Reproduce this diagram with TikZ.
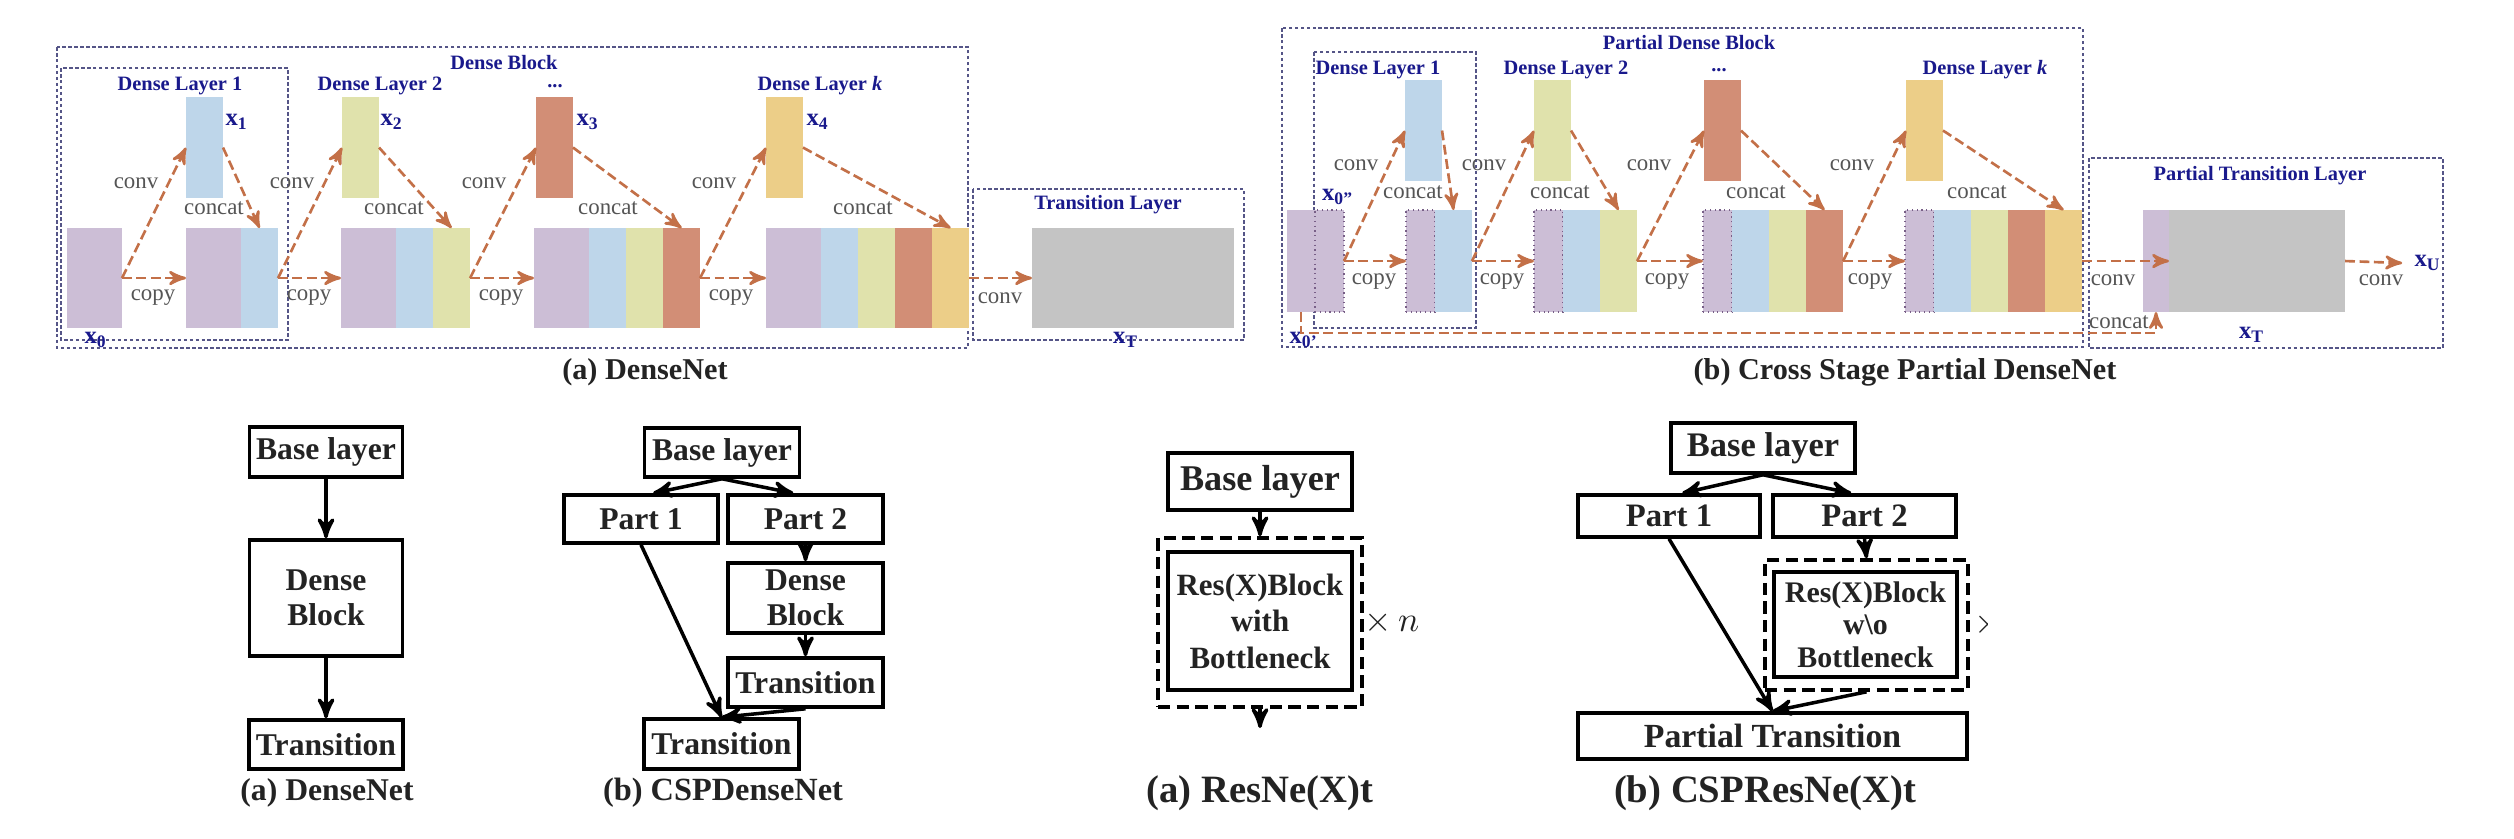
\documentclass[tikz,border=0pt]{standalone}
\usepackage{fontspec}
\setmainfont{Liberation Serif}
\usetikzlibrary{arrows,positioning}

\definecolor{navy}{RGB}{25,25,140}
\definecolor{boxline}{RGB}{85,85,135}
\definecolor{rust}{RGB}{195,112,72}
\definecolor{opgray}{RGB}{85,85,85}
\definecolor{cpurple}{RGB}{204,190,214}
\definecolor{cblue}{RGB}{190,214,234}
\definecolor{cgreen}{RGB}{224,226,172}
\definecolor{csalmon}{RGB}{210,142,118}
\definecolor{corange}{RGB}{236,206,136}
\definecolor{cgray}{RGB}{196,196,196}
\definecolor{dotline}{RGB}{120,95,135}
\definecolor{ink}{RGB}{35,35,35}

\begin{document}
\begin{tikzpicture}[x=0.01cm,y=-0.01cm,>=stealth',
  seg/.style={inner sep=0pt,outer sep=0pt,minimum width=0.37cm,minimum height=1cm},
  segb/.style={seg,minimum height=1.02cm},
  wseg/.style={minimum width=0.55cm},
  hseg/.style={minimum width=0.29cm},
  pdot/.style={draw=dotline,densely dotted,line width=0.35pt},
  feat/.style={inner sep=0pt,outer sep=0pt,minimum width=0.37cm,minimum height=1.01cm,anchor=north west},
  dbox/.style={draw=boxline,line width=0.45pt,dash pattern=on 1pt off 0.7pt},
  flow/.style={->,color=rust,line width=0.75pt,dash pattern=on 2.8pt off 1.3pt},
  ttl/.style={text=navy,font=\bfseries\fontsize{5.8}{7}\selectfont},
  xl/.style={text=navy,font=\bfseries\fontsize{7}{8}\selectfont},
  op/.style={text=opgray,font=\fontsize{6.5}{7}\selectfont},
  capt/.style={text=ink,font=\bfseries\fontsize{#1}{12}\selectfont},
  lbox/.style 2 args={draw=black,line width=1pt,inner sep=0pt,align=center,text=ink,
                      font=\bfseries\fontsize{#1}{#2}\selectfont},
  dblk/.style={draw=black,line width=1pt,dash pattern=on 3.5pt off 1.8pt,inner sep=0pt},
  arr/.style={->,color=black,line width=1pt}]

\path[use as bounding box,fill=white] (0,0) rectangle (2514,838);

% ---- (a) DenseNet, top
\draw[dbox] (57,47) rectangle (968,348);
\draw[dbox] (61,68) rectangle (288,340);
\draw[dbox] (973,189) rectangle (1244,340);
\node[ttl] (tblk) at (504,63) {Dense Block};
\node[ttl] (tl1) at (180,86) {Dense Layer 1};
\node[ttl] (tl2) at (380,86) {Dense Layer 2};
\node[ttl] (tl3) at (555,86) {...};
\node[ttl] (tlk) at (820,86) {Dense Layer \textit{k}};
\node[ttl] (ttr) at (1108,205) {Transition Layer};

\node[feat,fill=cblue] (x1) at (186,97) {};
\node[feat,fill=cgreen] (x2) at (342,97) {};
\node[feat,fill=csalmon] (x3) at (536,97) {};
\node[feat,fill=corange] (x4) at (766,97) {};

\node[seg,wseg,fill=cpurple,anchor=north west] (x0) at (67,228) {};
\node[seg,wseg,fill=cpurple,anchor=north west] (b1a) at (186,228) {};
\node[seg,fill=cblue,right=0pt of b1a] (b1b) {};
\node[seg,wseg,fill=cpurple,anchor=north west] (b2a) at (341,228) {};
\node[seg,fill=cblue,right=0pt of b2a] (b2b) {};
\node[seg,fill=cgreen,right=0pt of b2b] (b2c) {};
\node[seg,wseg,fill=cpurple,anchor=north west] (b3a) at (534,228) {};
\node[seg,fill=cblue,right=0pt of b3a] (b3b) {};
\node[seg,fill=cgreen,right=0pt of b3b] (b3c) {};
\node[seg,fill=csalmon,right=0pt of b3c] (b3d) {};
\node[seg,wseg,fill=cpurple,anchor=north west] (b4a) at (766,228) {};
\node[seg,fill=cblue,right=0pt of b4a] (b4b) {};
\node[seg,fill=cgreen,right=0pt of b4b] (b4c) {};
\node[seg,fill=csalmon,right=0pt of b4c] (b4d) {};
\node[seg,fill=corange,right=0pt of b4d] (b4e) {};
\node[seg,fill=cgray,minimum width=2.02cm,anchor=north west] (gT) at (1032,228) {};

\node[xl] (lx1) at (237,122) {x\textsubscript{1}};
\node[xl] (lx2) at (392,122) {x\textsubscript{2}};
\node[xl] (lx3) at (588,122) {x\textsubscript{3}};
\node[xl] (lx4) at (818,122) {x\textsubscript{4}};
\node[xl] (lx0) at (96,340) {x\textsubscript{0}};
\node[xl] (lxT) at (1126,340) {x\textsubscript{T}};

\path[flow] (x0.east) edge (x1.west) edge (b1a.west)
  (x1.east) edge (b1b.north)
  (b1b.east) edge (x2.west) edge (b2a.west)
  (x2.east) edge (b2c.north)
  (b2c.east) edge (x3.west) edge (b3a.west)
  (x3.east) edge (b3d.north)
  (b3d.east) edge (x4.west) edge (b4a.west)
  (x4.east) edge (b4e.north)
  (b4e.east) edge (gT.west);

\foreach \s/\c [count=\i] in {122/214,278/394,470/608,700/863} {
  \node[op] (cv\i) at (\s+14,183) {conv};
  \node[op] (cp\i) at (\s+31,298) {copy};
  \node[op] (cc\i) at (\c,208) {concat};
}
\node[op] (cvT) at (1000,298) {conv};
\node[capt=8.6] (capa) at (645,372) {(a) DenseNet};

% ---- (b) Cross Stage Partial DenseNet, top
\draw[dbox] (1282,28) rectangle (2083,347);
\draw[dbox] (1314,52) rectangle (1476,328);
\draw[dbox] (2089,158) rectangle (2443,348);
\node[ttl] (pblk) at (1689,43) {Partial Dense Block};
\node[ttl] (pl1) at (1378,70) {Dense Layer 1};
\node[ttl] (pl2) at (1566,70) {Dense Layer 2};
\node[ttl] (pl3) at (1719,70) {...};
\node[ttl] (plk) at (1985,70) {Dense Layer \textit{k}};
\node[ttl] (ptr) at (2260,176) {Partial Transition Layer};

\node[feat,fill=cblue] (y1) at (1405,80) {};
\node[feat,fill=cgreen] (y2) at (1534,80) {};
\node[feat,fill=csalmon] (y3) at (1704,80) {};
\node[feat,fill=corange] (y4) at (1906,80) {};

\node[segb,minimum width=0.28cm,fill=cpurple,anchor=north west] (x0a) at (1287,210) {};
\node[segb,hseg,fill=cpurple,pdot,right=0pt of x0a] (x0b) {};
\node[segb,hseg,fill=cpurple,pdot,anchor=north west] (c1a) at (1406,210) {};
\node[segb,fill=cblue,right=0pt of c1a] (c1b) {};
\node[segb,hseg,fill=cpurple,pdot,anchor=north west] (c2a) at (1534,210) {};
\node[segb,fill=cblue,right=0pt of c2a] (c2b) {};
\node[segb,fill=cgreen,right=0pt of c2b] (c2c) {};
\node[segb,hseg,fill=cpurple,pdot,anchor=north west] (c3a) at (1703,210) {};
\node[segb,fill=cblue,right=0pt of c3a] (c3b) {};
\node[segb,fill=cgreen,right=0pt of c3b] (c3c) {};
\node[segb,fill=csalmon,right=0pt of c3c] (c3d) {};
\node[segb,hseg,fill=cpurple,pdot,anchor=north west] (c4a) at (1905,210) {};
\node[segb,fill=cblue,right=0pt of c4a] (c4b) {};
\node[segb,fill=cgreen,right=0pt of c4b] (c4c) {};
\node[segb,fill=csalmon,right=0pt of c4c] (c4d) {};
\node[segb,fill=corange,right=0pt of c4d] (c4e) {};
\node[segb,minimum width=0.26cm,fill=cpurple,anchor=north west] (tp) at (2143,210) {};
\node[segb,minimum width=1.76cm,fill=cgray,right=0pt of tp] (tg) {};

\node[xl] (ly0b) at (1338,197) {x\textsubscript{0''}};
\node[xl] (ly0a) at (1304,340) {x\textsubscript{0'}};
\node[xl] (lyT) at (2252,335) {x\textsubscript{T}};
\node[xl] (xU) at (2428,263) {x\textsubscript{U}};
\coordinate (byp) at (0,333);

\path[flow] (x0b.east) edge (y1.west) edge (c1a.west)
  (y1.east) edge (c1b.north)
  (c1b.east) edge (y2.west) edge (c2a.west)
  (y2.east) edge (c2c.north)
  (c2c.east) edge (y3.west) edge (c3a.west)
  (y3.east) edge (c3d.north)
  (c3d.east) edge (y4.west) edge (c4a.west)
  (y4.east) edge (c4e.north)
  (c4e.east) edge (tp.east)
  (tg.east) edge (xU.west);
\draw[flow] (x0a.south) -- (x0a.south |- byp) -| (tp.south);

\foreach \s/\c [count=\i] in {1344/1413,1472/1560,1637/1756,1840/1977} {
  \node[op] (pv\i) at (\s+12,165) {conv};
  \node[op] (pp\i) at (\s+30,282) {copy};
  \node[op] (pc\i) at (\c,192) {concat};
}
\node[op] (pvT) at (2113,280) {conv};
\node[op] (pcT) at (2119,322) {concat};
\node[op] (pvU) at (2381,280) {conv};
\node[capt=8.6] (capb) at (1905,372) {(b) Cross Stage Partial DenseNet};

% ---- bottom: DenseNet / CSPDenseNet
\node[lbox={9}{10},minimum width=1.53cm,minimum height=0.5cm] (base1) at (326,452) {Base layer};
\node[lbox={9}{10},minimum width=1.53cm,minimum height=1.16cm] (den1) at (326,598) {Dense\\Block};
\node[lbox={9}{10},minimum width=1.54cm,minimum height=0.49cm] (tr1) at (326,744.5) {Transition};
\node[capt=9] (cap1) at (327,793) {(a) DenseNet};

\node[lbox={9}{10},minimum width=1.55cm,minimum height=0.49cm] (base2) at (722,452.5) {Base layer};
\node[lbox={9}{10},minimum width=1.54cm,minimum height=0.48cm] (p1) at (641,519) {Part 1};
\node[lbox={9}{10},minimum width=1.55cm,minimum height=0.48cm] (p2) at (805.5,519) {Part 2};
\node[lbox={9}{10},minimum width=1.55cm,minimum height=0.70cm] (den2) at (805.5,598) {Dense\\Block};
\node[lbox={9}{10},minimum width=1.55cm,minimum height=0.49cm] (tr2) at (805.5,682.5) {Transition};
\node[lbox={9}{10},minimum width=1.55cm,minimum height=0.50cm] (trb2) at (721.5,744) {Transition};
\node[capt=9.2] (cap2) at (723,793) {(b) CSPDenseNet};

\path[arr] (base1.south) edge (den1.north)
  (den1.south) edge (tr1.north)
  (base2.south) edge (p1.65) edge (p2.115)
  (p2.south) edge (den2.north)
  (den2.south) edge (tr2.north)
  (p1.south) edge (trb2.north)
  (tr2.south) edge (trb2.north);

% ---- bottom: ResNe(X)t / CSPResNe(X)t
\node[lbox={10.3}{11},minimum width=1.84cm,minimum height=0.57cm] (base3) at (1260,481.5) {Base layer};
\node[dblk,minimum width=2.04cm,minimum height=1.69cm] (rep3) at (1260,622.5) {};
\node[lbox={8.8}{10.4},minimum width=1.84cm,minimum height=1.38cm] (rb3) at (1260,621) {Res(X)Block\\with\\Bottleneck};
\coordinate (out3) at (1260,728);
\node[text=ink,font=\fontsize{10}{11}\selectfont] (tn3) at (1392,623) {$\times\,n$};
\node[capt=11] (cap3) at (1260,793) {(a) ResNe(X)t};

\node[lbox={9.8}{11},minimum width=1.84cm,minimum height=0.50cm] (base4) at (1763,448) {Base layer};
\node[lbox={9.3}{10},minimum width=1.82cm,minimum height=0.42cm] (p14) at (1669,516) {Part 1};
\node[lbox={9.3}{10},minimum width=1.83cm,minimum height=0.42cm] (p24) at (1864.5,516) {Part 2};
\node[dblk,minimum width=2.03cm,minimum height=1.30cm] (rep4) at (1866.5,625) {};
\node[lbox={8.5}{9.2},minimum width=1.83cm,minimum height=1.05cm] (rb4) at (1865.5,624.5) {Res(X)Block\\w\textbackslash o\\Bottleneck};
\node[lbox={9.6}{10},minimum width=3.89cm,minimum height=0.46cm] (pt4) at (1772.5,736) {Partial Transition};
\begin{scope}
\clip (1970,600) rectangle (1987,650);
\node[text=ink,inner sep=0pt,font=\fontsize{10}{11}\selectfont] (tn4) at (1988,625) {$\times$};
\end{scope}
\node[capt=11] (cap4) at (1765,793) {(b) CSPResNe(X)t};

\path[arr] (base3.south) edge (rep3.north)
  (rep3.south) edge (out3)
  (base4.south) edge (p14.60) edge (p24.120)
  (p24.south) edge (rep4.north)
  (p14.south) edge (pt4.north)
  (rep4.south) edge (pt4.north);
\end{tikzpicture}
\end{document}
